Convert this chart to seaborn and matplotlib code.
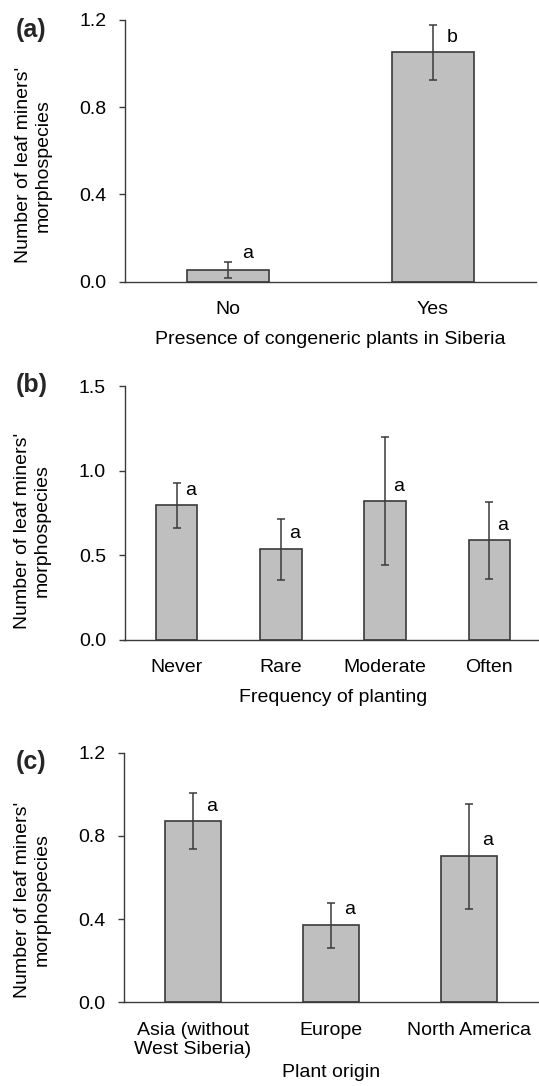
import matplotlib
matplotlib.use("Agg")
import matplotlib.pyplot as plt
import seaborn as sns
import pandas as pd

# ---------------- data ----------------
a_categories = ["No", "Yes"]
a_means = [0.053, 1.05]
a_errors = [0.036, 0.126]
a_letters = ["a", "b"]
a_letter_y = [0.107, 1.098]

b_categories = ["Never", "Rare", "Moderate", "Often"]
b_means = [0.795, 0.536, 0.819, 0.588]
b_errors = [0.131, 0.179, 0.378, 0.228]
b_letters = ["a", "a", "a", "a"]
b_letter_y = [0.856, 0.601, 0.882, 0.650]

c_categories = ["Asia (without\nWest Siberia)", "Europe", "North America"]
c_means = [0.870, 0.370, 0.702]
c_errors = [0.135, 0.109, 0.253]
c_letters = ["a", "a", "a"]
c_letter_y = [0.920, 0.423, 0.758]

a_yticks = [0.0, 0.4, 0.8, 1.2]
b_yticks = [0.0, 0.5, 1.0, 1.5]
c_yticks = [0.0, 0.4, 0.8, 1.2]

a_xlabel = "Presence of congeneric plants in Siberia"
b_xlabel = "Frequency of planting"
c_xlabel = "Plant origin"
ylabel_text = "Number of leaf miners'\nmorphospecies"

# ---------------- style ----------------
sns.set_style("ticks")
plt.rcParams["font.family"] = ["Liberation Sans", "DejaVu Sans"]
FS = 14
BAR_FILL = "#bfbfbf"
DARK = "#3a3a3a"

W, H = 539, 1086
fig = plt.figure(figsize=(W / 100, H / 100), dpi=100)

panels = [
    dict(cats=a_categories, means=a_means, errs=a_errors, letters=a_letters,
         ly=a_letter_y, yticks=a_yticks, xlabel=a_xlabel, tag="(a)",
         rect=(125, 19.7, 535.7, 281.7), loff=0.095, labelpad=9, ylab_y=0.445,
         tag_top=18),
    dict(cats=b_categories, means=b_means, errs=b_errors, letters=b_letters,
         ly=b_letter_y, yticks=b_yticks, xlabel=b_xlabel, tag="(b)",
         rect=(124.5, 386, 541.5, 640), loff=0.13, labelpad=9, ylab_y=0.43,
         tag_top=373),
    dict(cats=c_categories, means=c_means, errs=c_errors, letters=c_letters,
         ly=c_letter_y, yticks=c_yticks, xlabel=c_xlabel, tag="(c)",
         rect=(124, 752.7, 538, 1002.3), loff=0.135, labelpad=4, ylab_y=0.41,
         tag_top=750),
]

for p in panels:
    x0, y0, x1, y1 = p["rect"]
    ax = fig.add_axes([x0 / W, 1 - y1 / H, (x1 - x0) / W, (y1 - y0) / H])
    df = pd.DataFrame({"cat": p["cats"], "val": p["means"]})
    sns.barplot(data=df, x="cat", y="val", ax=ax, color=BAR_FILL,
                edgecolor=DARK, linewidth=1.2, width=0.4, errorbar=None,
                saturation=1)
    centers = [bar.get_x() + bar.get_width() / 2 for bar in ax.patches]
    ax.errorbar(centers, p["means"], yerr=p["errs"], fmt="none",
                ecolor=DARK, elinewidth=1.1, capsize=2.6, capthick=1.1)
    for cx, lt, ly in zip(centers, p["letters"], p["ly"]):
        ax.text(cx + p["loff"], ly, lt, ha="center", va="baseline",
                fontsize=FS, color="black")
    ax.set_xlim(-0.5, len(p["cats"]) - 0.5)
    ax.set_ylim(p["yticks"][0], p["yticks"][-1])
    ax.set_yticks(p["yticks"])
    ax.set_yticklabels([f"{t:.1f}" for t in p["yticks"]])
    sns.despine(ax=ax)
    for s in ["left", "bottom"]:
        ax.spines[s].set_color(DARK)
        ax.spines[s].set_linewidth(1.0)
    ax.tick_params(axis="y", length=4.3, width=1.0, color=DARK, pad=9,
                   labelsize=FS, labelcolor="black")
    ax.tick_params(axis="x", length=0, pad=14, labelsize=FS,
                   labelcolor="black")
    ax.set_xlabel(p["xlabel"], fontsize=FS, labelpad=p["labelpad"],
                  color="black")
    ax.set_ylabel(ylabel_text, fontsize=FS, color="black")
    ax.yaxis.set_label_coords(-0.178, p["ylab_y"])
    fig.text(16 / W, 1 - p["tag_top"] / H, p["tag"], fontsize=18,
             fontweight="bold", ha="left", va="top")

fig.savefig("out.png", dpi=100)
